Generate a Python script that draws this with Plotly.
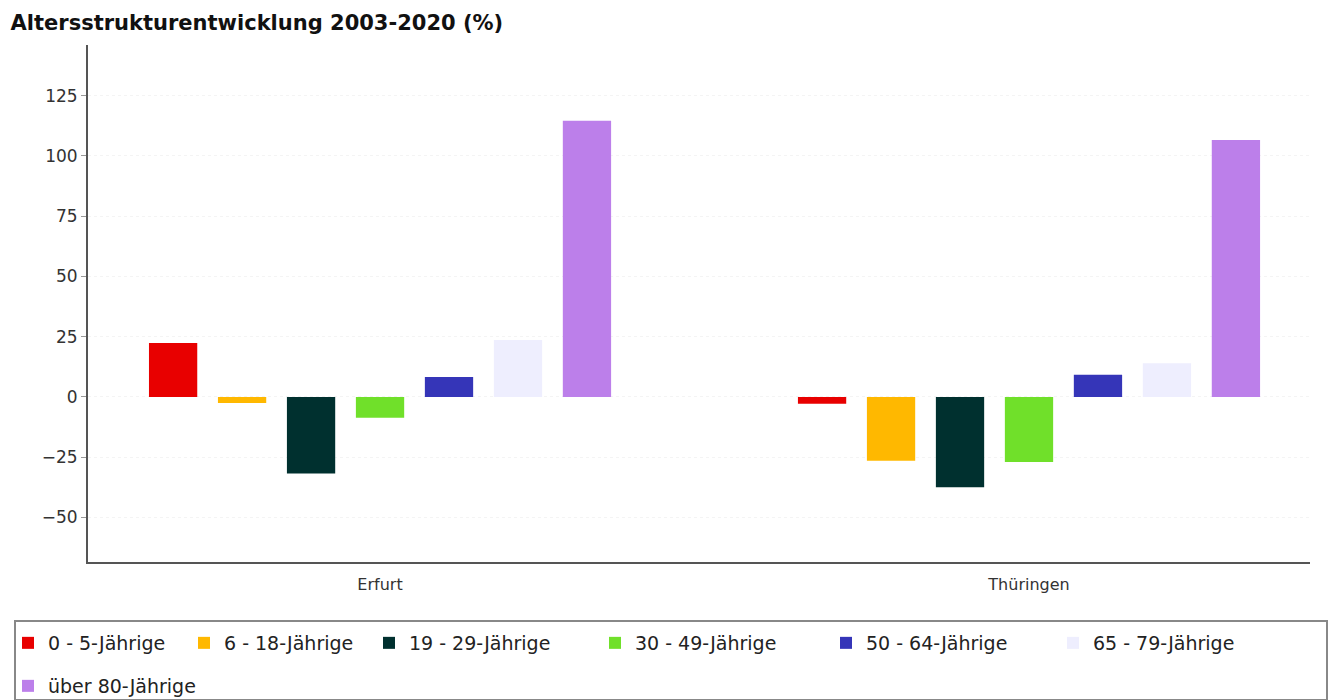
import plotly.graph_objects as go

regions = ["Erfurt", "Thüringen"]
groups = ["0 - 5-Jährige", "6 - 18-Jährige", "19 - 29-Jährige", "30 - 49-Jährige",
          "50 - 64-Jährige", "65 - 79-Jährige", "über 80-Jährige"]
erfurt = [22.4, -2.5, -31.8, -8.7, 8.3, 23.6, 114.6]
thueringen = [-2.8, -26.5, -37.5, -27.0, 9.2, 14.0, 106.6]
colors = ["#E80000", "#FFB800", "#00302F", "#70E02A", "#3535B8", "#EEEEFE", "#BC7FEA"]
yticks = [-50, -25, 0, 25, 50, 75, 100, 125]

FONT = "DejaVu Sans, sans-serif"
W, H = 1328, 700

# legend swatch positions (pixels) for each legend entry: layout only
leg_px = [(22, 643), (198, 643), (383, 643), (609, 643), (840, 643), (1067, 643), (22, 686)]

fig = go.Figure()
for i, g in enumerate(groups):
    lname = "legend" if i == 0 else f"legend{i + 1}"
    fig.add_trace(go.Bar(
        x=regions, y=[erfurt[i], thueringen[i]], name=g,
        marker=dict(color=colors[i], line=dict(width=0)),
        legend=lname,
    ))

legends = {}
for i, (px, py) in enumerate(leg_px):
    lname = "legend" if i == 0 else f"legend{i + 1}"
    legends[lname] = dict(
        orientation="h", xref="container", yref="container",
        x=(px - 14) / W, y=1 - py / H, xanchor="left", yanchor="middle",
        font=dict(family=FONT, size=19, color="#222222"), borderwidth=0,
        bgcolor="rgba(0,0,0,0)", itemwidth=30)

fig.update_layout(
    width=W, height=H,
    margin=dict(l=88, r=18, t=45, b=138),
    paper_bgcolor="white", plot_bgcolor="white",
    barmode="group", bargap=0.256, bargroupgap=0.3,
    title=dict(text="<b>Altersstrukturentwicklung 2003-2020 (%)</b>",
               x=0.008, xanchor="left", y=0.968, yanchor="middle",
               font=dict(family=FONT, size=21, color="#111111")),
    font=dict(family=FONT, size=16, color="#333333"),
    xaxis=dict(range=[-0.45, 1.433], showline=True, linecolor="#555555", linewidth=2,
               ticks="", showgrid=False, tickfont=dict(size=16, color="#333333"),
               ticklabelstandoff=7, zeroline=False),
    yaxis=dict(range=[-68.5, 146], tickvals=yticks, showline=True, linecolor="#555555",
               linewidth=2, ticks="outside", ticklen=5, tickcolor="#999999",
               ticksuffix="\u2002",
               showgrid=True, gridcolor="#F4F4F4", griddash="dot", zeroline=False,
               tickfont=dict(size=17, color="#333333")),
    showlegend=True,
    **legends,
)

fig.add_shape(type="rect", xref="paper", yref="paper",
              x0=(15 - 88) / 1222, x1=(1327 - 88) / 1222,
              y0=(562 - 700) / 517, y1=(562 - 621) / 517,
              line=dict(color="#888888", width=2), fillcolor="rgba(0,0,0,0)")

fig.write_html("out.html")
